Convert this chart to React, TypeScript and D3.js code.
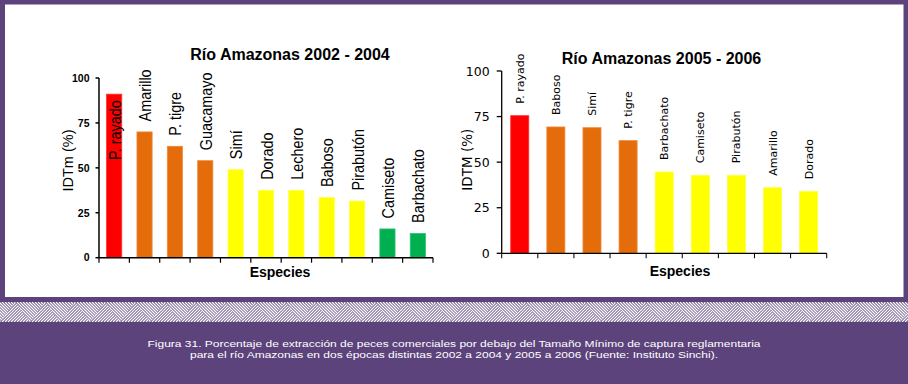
import React from "react";
import * as d3 from "d3";

const species1 = ["P. rayado", "Amarillo", "P. tigre", "Guacamayo", "Simí", "Dorado", "Lechero", "Baboso", "Pirabutón", "Camiseto", "Barbachato"];
const values1 = [91, 70, 62, 54, 49, 37.5, 37.5, 33.5, 31.5, 16, 13.5];
const groups1 = ["red", "orange", "orange", "orange", "yellow", "yellow", "yellow", "yellow", "yellow", "green", "green"];

const species2 = ["P. rayado", "Baboso", "Simí", "P. tigre", "Barbachato", "Camiseto", "Pirabutón", "Amarillo", "Dorado"];
const values2 = [75.5, 69.3, 68.9, 61.8, 44.6, 42.8, 42.8, 36, 34];
const groups2 = ["red", "orange", "orange", "orange", "yellow", "yellow", "yellow", "yellow", "yellow"];

const yTicks = [0, 25, 50, 75, 100];
const title1 = "Río Amazonas 2002 - 2004";
const title2 = "Río Amazonas 2005 - 2006";
const yTitle1 = "IDTm (%)";
const yTitle2 = "IDTM (%)";
const xTitle = "Especies";
const caption = [
  "Figura 31. Porcentaje de extracción de peces comerciales por debajo del Tamaño Mínimo de captura reglamentaria",
  "para el río Amazonas en dos épocas distintas 2002 a 2004 y 2005 a 2006 (Fuente: Instituto Sinchi).",
];

const colorMap: Record<string, string> = {
  red: "#FF0000",
  orange: "#E46C0A",
  yellow: "#FFFF00",
  green: "#00B050",
};
const strokeMap: Record<string, string> = {
  red: "#FF3030",
  orange: "#F08A3A",
  yellow: "#FFFF40",
  green: "#30C070",
};

const PURPLE = "#5D437B";

type ChartCfg = {
  species: string[];
  values: number[];
  groups: string[];
  x0: number;
  x1: number;
  yZero: number;
  yTop: number;
  title: string;
  titleX: number;
  titleY: number;
  yTitle: string;
  yTitleX: number;
  yTitleY: number;
  yTitleFont: string;
  yTitleSize: number;
  xTitleX: number;
  xTitleY: number;
  tickFont: string;
  tickSize: number;
  tickWeight: string;
  tickLabelX: number;
  tickLen: number;
  labelFont: string;
  labelSize: number;
  labelScale: number;
  labelGap: number;
  labelShift: number;
  axisWidth: number;
};

function Chart(c: ChartCfg) {
  const xb = d3.scaleBand<string>().domain(c.species).range([c.x0, c.x1]).padding(0);
  const y = d3.scaleLinear().domain([0, 100]).range([c.yZero, c.yTop]);
  const bw = xb.bandwidth();
  const boundaries = c.species.map((s) => xb(s) as number).concat([c.x1]);
  return (
    <g>
      <text x={c.titleX} y={c.titleY} textAnchor="middle" fontFamily="Arial, 'Liberation Sans'" fontWeight="bold" fontSize={16} fill="#000">
        {c.title}
      </text>
      {c.species.map((s, i) => {
        const v = c.values[i];
        const bx = (xb(s) as number) + bw * 0.25;
        return (
          <rect key={s} x={bx} y={y(v)} width={bw * 0.5} height={c.yZero - y(v)} fill={colorMap[c.groups[i]]} stroke={strokeMap[c.groups[i]]} strokeWidth={0.8} />
        );
      })}
      {c.species.map((s, i) => {
        const v = c.values[i];
        const cx = (xb(s) as number) + bw / 2 + c.labelShift;
        const estLen = s.length * c.labelSize * 0.5;
        const outside = y(v) - c.labelGap - estLen > c.yTop - 40;
        const ly = outside ? y(v) - c.labelGap : y(v) + 6;
        return (
          <text
            key={"l" + s}
            transform={`translate(${cx},${ly}) rotate(-90) scale(${c.labelScale},1)`}
            textAnchor={outside ? "start" : "end"}
            fontFamily={c.labelFont}
            fontSize={c.labelSize}
            fill="#000"
          >
            {s}
          </text>
        );
      })}
      <line x1={c.x0} x2={c.x0} y1={c.yTop} y2={c.yZero} stroke="#000" strokeWidth={c.axisWidth} />
      <line x1={c.x0} x2={c.x1} y1={c.yZero} y2={c.yZero} stroke="#000" strokeWidth={c.axisWidth} />
      {yTicks.map((t) => (
        <g key={"t" + t}>
          <line x1={c.x0 - c.tickLen} x2={c.x0} y1={y(t)} y2={y(t)} stroke="#000" strokeWidth={c.axisWidth} />
          <text x={c.tickLabelX} y={y(t)} dy="0.36em" textAnchor="end" fontFamily={c.tickFont} fontSize={c.tickSize} fontWeight={c.tickWeight} fill="#000">
            {t}
          </text>
        </g>
      ))}
      {boundaries.map((bx, i) => (
        <line key={"b" + i} x1={bx} x2={bx} y1={c.yZero} y2={c.yZero + 5} stroke="#000" strokeWidth={c.axisWidth * 0.8} />
      ))}
      <text x={c.xTitleX} y={c.xTitleY} textAnchor="middle" fontFamily="Arial, 'Liberation Sans'" fontWeight="bold" fontSize={14} fill="#000">
        {xTitle}
      </text>
      <text transform={`translate(${c.yTitleX},${c.yTitleY}) rotate(-90)`} textAnchor="middle" fontFamily={c.yTitleFont} fontSize={c.yTitleSize} fill="#000">
        {c.yTitle}
      </text>
    </g>
  );
}

export default function App() {
  const stripes = d3.range(-40, 60, 3);
  return (
    <svg width={908} height={384} style={{ position: "absolute", left: 0, top: 0 }} xmlns="http://www.w3.org/2000/svg">
      <defs>
        <clipPath id="upTri">
          <path d="M0,20 L15,0 L30,20 Z" />
        </clipPath>
        <clipPath id="downTri">
          <path d="M0,0 L15,0 L0,20 Z M15,0 L30,0 L30,20 Z" />
        </clipPath>
        <pattern id="hatch" patternUnits="userSpaceOnUse" x={0} y={302} width={30} height={20}>
          <rect width={30} height={20} fill={PURPLE} />
          <g clipPath="url(#upTri)">
            {stripes.map((k) => (
              <line key={"u" + k} x1={k} y1={20} x2={k + 20} y2={0} stroke="#FFFFFF" strokeWidth={1.3} />
            ))}
          </g>
          <g clipPath="url(#downTri)">
            {stripes.map((k) => (
              <line key={"d" + k} x1={k} y1={0} x2={k + 20} y2={20} stroke="#FFFFFF" strokeWidth={1.3} />
            ))}
          </g>
        </pattern>
      </defs>
      <rect x={0} y={0} width={908} height={384} fill={PURPLE} />
      <rect x={5} y={4.5} width={898.5} height={292.5} fill="#FFFFFF" />
      <rect x={0} y={302} width={908} height={20} fill="url(#hatch)" />
      <Chart
        species={species1}
        values={values1}
        groups={groups1}
        x0={99}
        x1={433}
        yZero={257.7}
        yTop={78}
        title={title1}
        titleX={290}
        titleY={60}
        yTitle={yTitle1}
        yTitleX={73}
        yTitleY={160.5}
        yTitleFont="Arial, 'Liberation Sans'"
        yTitleSize={14.5}
        xTitleX={280}
        xTitleY={277}
        tickFont="Arial, 'Liberation Sans'"
        tickSize={10.5}
        tickWeight="bold"
        tickLabelX={89.5}
        tickLen={3.5}
        labelFont="Arial, 'Liberation Sans'"
        labelSize={16}
        labelScale={0.9}
        labelGap={10.5}
        labelShift={6.5}
        axisWidth={1.5}
      />
      <Chart
        species={species2}
        values={values2}
        groups={groups2}
        x0={501.7}
        x1={826.7}
        yZero={253.3}
        yTop={71}
        title={title2}
        titleX={661.5}
        titleY={64}
        yTitle={yTitle2}
        yTitleX={471.5}
        yTitleY={159.7}
        yTitleFont="'DejaVu Sans', Verdana"
        yTitleSize={13.5}
        xTitleX={680}
        xTitleY={275.5}
        tickFont="'DejaVu Sans', Verdana"
        tickSize={12.5}
        tickWeight="normal"
        tickLabelX={489.7}
        tickLen={5}
        labelFont="'DejaVu Sans', Verdana"
        labelSize={11}
        labelScale={1}
        labelGap={12}
        labelShift={4}
        axisWidth={1.3}
      />
      {caption.map((line, i) => (
        <text
          key={"c" + i}
          transform={`translate(454,${346.5 + i * 11.5}) scale(1,0.8)`}
          textAnchor="middle"
          fontFamily="Arial, 'Liberation Sans'"
          fontSize={12}
          fill="#FFFFFF"
        >
          {line}
        </text>
      ))}
    </svg>
  );
}
